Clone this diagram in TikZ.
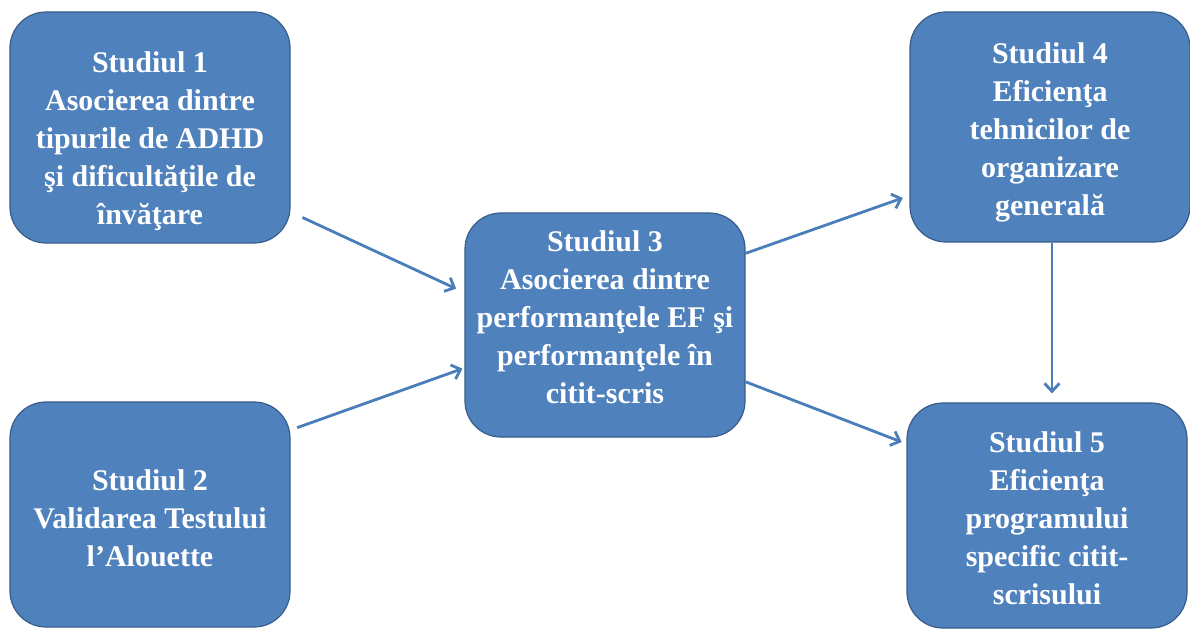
\documentclass[tikz,border=0pt]{standalone}
\usepackage{fontspec}
\setmainfont{Liberation Serif}
\usetikzlibrary{arrows.meta}
\definecolor{boxfill}{HTML}{4F81BD}
\definecolor{boxline}{HTML}{385D8A}
\definecolor{arrowblue}{HTML}{4A7EBB}
\tikzset{
	studiu/.style={draw=boxline, line width=1.2bp, fill=boxfill, rounded corners=36bp, minimum width=280bp, inner sep=0pt},
	eticheta/.style={text=white, font=\bfseries\fontsize{30bp}{38bp}\selectfont, align=center, inner sep=0pt},
	sageata/.style={draw=arrowblue, line width=2.8bp, -{Straight Barb[length=8bp,width=15bp]}}
}
\begin{document}
\begin{tikzpicture}[x=1bp,y=-1bp]
	\useasboundingbox (0,0) rectangle (1190,630);
		\foreach \n/\x/\y/\h in {s1/150/127.5/231, s2/150/514.5/225, s3/605/325/224, s4/1050/127/230, s5/1047/515.5/225}
			\node [studiu, minimum height=\h bp] (\n) at (\x,\y) {};
		% texte
		\node [eticheta] (t1) at ([yshift=-13.5bp]s1.center) {Studiul 1\\Asocierea dintre\\tipurile de ADHD\\şi dificultăţile de\\învăţare};
		\node [eticheta] (t2) at ([yshift=-3.5bp]s2.center) {Studiul 2\\Validarea Testului\\l’Alouette};
		\node [eticheta] (t3) at ([yshift=8bp]s3.center) {Studiul 3\\Asocierea dintre\\performanţele EF şi\\performanţele în\\citit-scris};
		\node [eticheta] (t4) at ([yshift=-5bp]s4.center) {Studiul 4\\Eficienţa\\tehnicilor de\\organizare\\generală};
		\node [eticheta] (t5) at ([yshift=-3bp]s5.center) {Studiul 5\\Eficienţa\\programului\\specific citit-\\scrisului};
		% sageti
		\draw [sageata, shorten <=13bp, shorten >=9bp] (s1.-31.3) -- (s3.167);
		\draw [sageata, shorten <=7bp, shorten >=2bp] (s2.31.3) -- (s3.-163.6);
		\draw [sageata, shorten >=7bp] (s3.27.2) -- (s4.-154.8);
		\draw [sageata, shorten >=5bp] (s3.-22.9) -- (s5.153.2);
		\draw [sageata, shorten >=9bp] ([xshift=2bp]s4.south) -- ([xshift=2bp]s4.south |- s5.north);
\end{tikzpicture}
\end{document}
